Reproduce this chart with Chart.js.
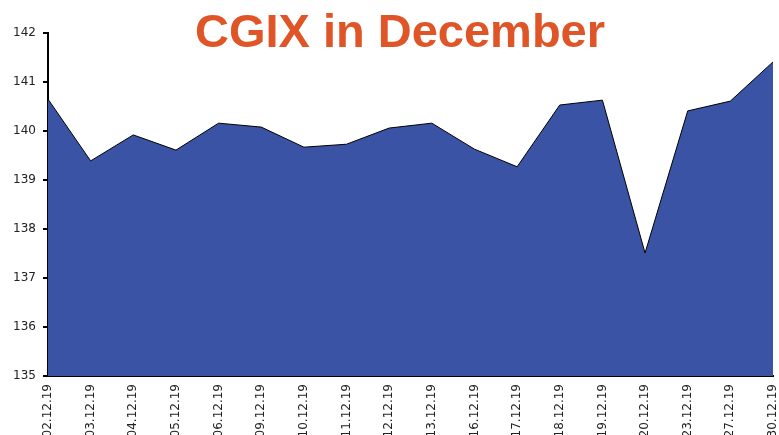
<!DOCTYPE html>
<html>
<head>
<meta charset="utf-8">
<script src="https://cdn.jsdelivr.net/npm/chart.js@4"></script>
<style>
  html, body { margin: 0; padding: 0; background: #fff; }
  #wrap { width: 779px; height: 435px; position: relative; }
</style>
</head>
<body>
<div id="wrap"><canvas id="c"></canvas></div>
<script>
// CGIX daily close, December 2019
const dates = ['02.12.19', '03.12.19', '04.12.19', '05.12.19', '06.12.19', '09.12.19',
  '10.12.19', '11.12.19', '12.12.19', '13.12.19', '16.12.19', '17.12.19',
  '18.12.19', '19.12.19', '20.12.19', '23.12.19', '27.12.19', '30.12.19'];
const closes = [140.65, 139.39, 139.92, 139.61, 140.16, 140.08,
  139.67, 139.73, 140.06, 140.16, 139.63, 139.27,
  140.53, 140.63, 137.51, 140.41, 140.61, 141.41];
const yTicks = [135, 136, 137, 138, 139, 140, 141, 142];

const titleText = 'CGIX in December';

// title sits over the top of the plot, so draw it by hand
const titlePlugin = {
  id: 'overTitle',
  afterDraw(chart) {
    const ctx = chart.ctx;
    ctx.save();
    ctx.font = 'bold 47px "Liberation Sans", Arial, sans-serif';
    ctx.fillStyle = '#E05528';
    ctx.textAlign = 'center';
    ctx.textBaseline = 'alphabetic';
    ctx.fillText(titleText, 400, 47);
    ctx.restore();
  }
};

new Chart(document.getElementById('c'), {
  type: 'line',
  data: {
    labels: dates,
    datasets: [{
      data: closes,
      borderColor: '#000',
      borderWidth: 1,
      backgroundColor: '#3A53A4',
      fill: 'start',
      tension: 0,
      pointRadius: 0
    }]
  },
  options: {
    responsive: true,
    maintainAspectRatio: false,
    animation: false,
    layout: { padding: { top: 33, right: 6, left: 0, bottom: 0 } },
    plugins: {
      legend: { display: false },
      tooltip: { enabled: false }
    },
    scales: {
      x: {
        offset: false,
        grid: { display: false },
        border: { display: true, color: '#000', width: 2 },
        afterFit: (s) => { s.height = 59; s.paddingLeft = 0; s.paddingRight = 0; },
        ticks: {
          autoSkip: false,
          minRotation: 90,
          maxRotation: 90,
          padding: 0,
          color: '#222',
          font: { family: '"DejaVu Sans", Verdana, sans-serif', size: 12 }
        }
      },
      y: {
        min: 135,
        max: 142,
        afterBuildTicks: (s) => { s.ticks = yTicks.map(v => ({ value: v })); },
        afterFit: (s) => { s.width = 48; },
        grid: { display: true, drawOnChartArea: false, drawTicks: true, tickLength: 5, color: '#000', lineWidth: 2 },
        border: { display: true, color: '#000', width: 2 },
        ticks: {
          padding: 7,
          color: '#222',
          font: { family: '"DejaVu Sans", Verdana, sans-serif', size: 12 }
        }
      }
    }
  },
  plugins: [titlePlugin]
});
</script>
</body>
</html>
